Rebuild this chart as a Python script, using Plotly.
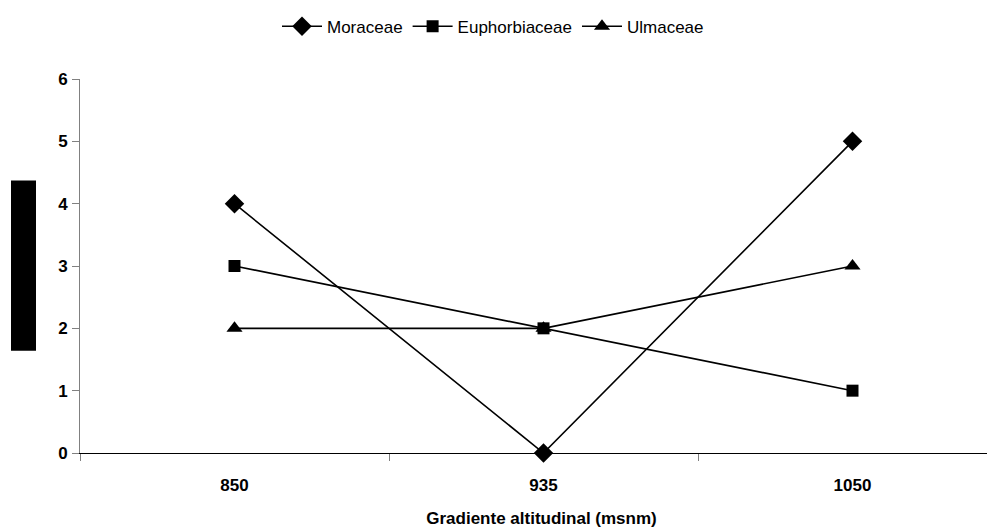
import plotly.graph_objects as go

categories = ["850", "935", "1050"]
moraceae = [4, 0, 5]
euphorbiaceae = [3, 2, 1]
ulmaceae = [2, 2, 3]
y_ticks = [0, 1, 2, 3, 4, 5, 6]

FONT = "Liberation Sans, Arial, sans-serif"

# page has an 8px body margin; plot area should sit at x 80..(off-page), y 79..453.5
PLOT_W = 923

fig = go.Figure()
series = [
    ("Moraceae", moraceae, "diamond", 15),
    ("Euphorbiaceae", euphorbiaceae, "square", 12),
    ("Ulmaceae", ulmaceae, "triangle-up", 14),
]
for name, vals, sym, size in series:
    fig.add_trace(go.Scatter(
        x=categories, y=vals, name=name, mode="lines+markers",
        line=dict(color="black", width=1.6),
        marker=dict(symbol=sym, size=size, color="black"),
        cliponaxis=False,
    ))

# black box left of the y axis (as in the reference)
fig.add_shape(type="rect", xref="paper", yref="y",
              x0=(11 - 80) / PLOT_W, x1=(36 - 80) / PLOT_W, y0=1.64, y1=4.37,
              fillcolor="black", line=dict(width=0), layer="above")

fig.update_layout(
    width=995, height=529,
    margin=dict(l=72, r=0, t=71, b=84),
    paper_bgcolor="white", plot_bgcolor="white",
    font=dict(family=FONT, color="black"),
    showlegend=True,
    legend=dict(orientation="h", x=(277 - 80) / PLOT_W, xanchor="left", y=1.188, yanchor="top",
                font=dict(family=FONT, size=17, color="black"),
                itemwidth=40, tracegroupgap=0, bgcolor="rgba(0,0,0,0)"),
    xaxis=dict(
        type="category", range=[-0.5, -0.5 + PLOT_W / 309],
        showgrid=False, zeroline=False,
        showline=True, linecolor="black", linewidth=1.2,
        ticks="outside", tickson="boundaries", ticklen=7, tickcolor="#808080", tickwidth=1,
        ticklabelstandoff=16,
        tickfont=dict(family=FONT, size=17, color="black", weight="bold"),
        title=dict(text="Gradiente altitudinal (msnm)",
                   font=dict(family=FONT, size=17, color="black", weight="bold"),
                   standoff=18),
    ),
    yaxis=dict(
        range=[0, 6], tickvals=y_ticks,
        showgrid=False, zeroline=False,
        showline=True, linecolor="#808080", linewidth=1,
        ticks="outside", ticklen=7, tickcolor="#808080", tickwidth=1,
        ticklabelstandoff=1,
        tickfont=dict(family=FONT, size=17, color="black", weight="bold"),
    ),
)

fig.write_html("out.html")
